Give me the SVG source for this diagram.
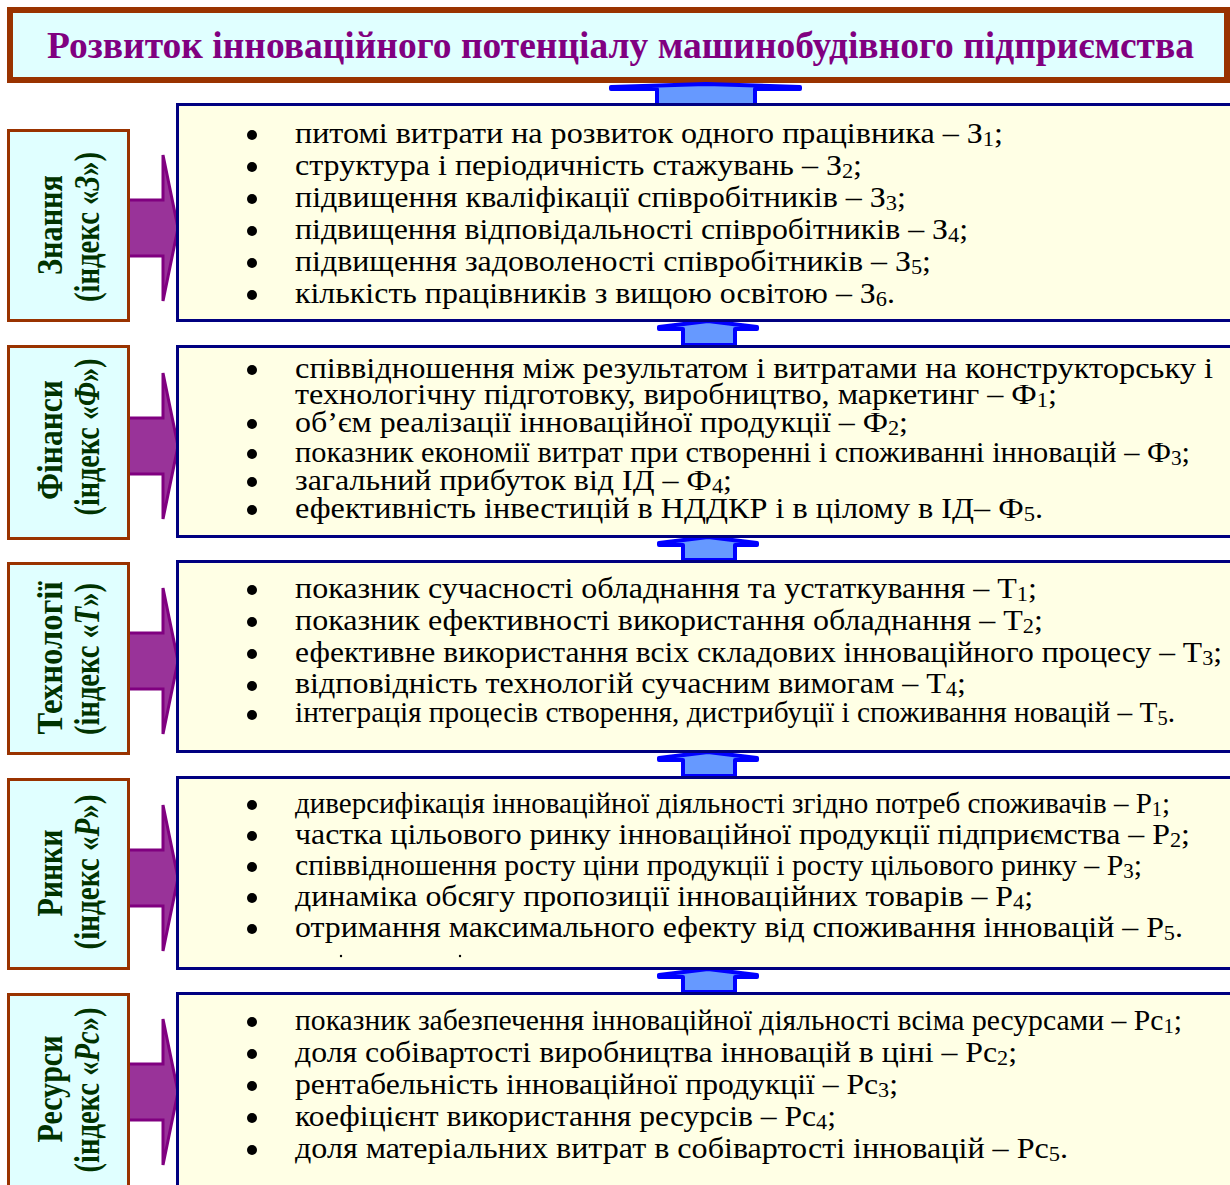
<svg xmlns="http://www.w3.org/2000/svg" width="1230" height="1185" viewBox="0 0 1230 1185">
<style>
.title{font-family:"Liberation Serif",serif;font-weight:bold;font-size:38px;fill:#800080}
.lbox{fill:#E0FFFF;stroke:#993300;stroke-width:3}
.cbox{fill:#FFFFE5;stroke:#000080;stroke-width:3}
.lab{font-family:"Liberation Serif",serif;font-weight:bold;font-size:36px;fill:#003300}
.t{font-family:"Liberation Serif",serif;font-size:30px;fill:#000}
.s{font-size:21px}
.pa{fill:#993399;stroke:#800080;stroke-width:3;stroke-linejoin:miter}
.ba{fill:#6699FF;stroke:#0000FF;stroke-width:4;stroke-linejoin:round}
.b{fill:#000}
</style>
<rect width="1230" height="1185" fill="#fff"/>

<g id="title">
<rect x="10" y="10" width="1217" height="70" fill="#E0FFFF" stroke="#993300" stroke-width="6"/>
<text class="title" x="47" y="58" textLength="1147" lengthAdjust="spacingAndGlyphs">Розвиток інноваційного потенціалу машинобудівного підприємства</text>
</g>

<g id="connectors">
<path class="ba" d="M657,105 V89 H611 V87 L706,84 L800,87 V89 H755 V105 Z"/>
<path class="ba" d="M683,345 V329 H659 V327 L708,321 L757,327 V329 H735 V345 Z"/>
<path class="ba" d="M683,560 V545 H659 V543 L708,537 L757,543 V545 H735 V560 Z"/>
<path class="ba" d="M683,776 V760 H659 V758 L708,752 L757,758 V760 H735 V776 Z"/>
<path class="ba" d="M683,992 V977 H659 V975 L708,969 L757,975 V977 H735 V992 Z"/>
<path class="pa" d="M128,200 H163 V155 L178,228 L163,301 V256 H128 Z"/>
<path class="pa" d="M128,418 H163 V373 L178,446 L163,519 V474 H128 Z"/>
<path class="pa" d="M128,633 H163 V588 L178,661 L163,734 V689 H128 Z"/>
<path class="pa" d="M128,850 H163 V805 L178,878 L163,951 V906 H128 Z"/>
<path class="pa" d="M128,1064 H163 V1019 L178,1092 L163,1165 V1120 H128 Z"/>
</g>

<g id="knowledge-label">
<rect class="lbox" x="8.5" y="130.5" width="120" height="190"/>
<text class="lab" transform="translate(62,225) rotate(-90)" text-anchor="middle" textLength="100" lengthAdjust="spacingAndGlyphs">Знання</text>
<text class="lab" transform="translate(99,227) rotate(-90)" text-anchor="middle" textLength="150" lengthAdjust="spacingAndGlyphs">(індекс «<tspan font-style="italic">З</tspan>»)</text>
</g>
<g id="knowledge">
<rect class="cbox" x="177.5" y="104.5" width="1100" height="216"/>
<circle class="b" cx="252" cy="135" r="5"/>
<circle class="b" cx="252" cy="167" r="5"/>
<circle class="b" cx="252" cy="199" r="5"/>
<circle class="b" cx="252" cy="231" r="5"/>
<circle class="b" cx="252" cy="263" r="5"/>
<circle class="b" cx="252" cy="295" r="5"/>
<text class="t" x="295" y="143" textLength="708" lengthAdjust="spacingAndGlyphs">питомі витрати на розвиток одного працівника – З<tspan class="s" dy="3">1</tspan><tspan dy="-3">;</tspan></text>
<text class="t" x="295" y="175" textLength="567" lengthAdjust="spacingAndGlyphs">структура і періодичність стажувань – З<tspan class="s" dy="3">2</tspan><tspan dy="-3">;</tspan></text>
<text class="t" x="295" y="207" textLength="611" lengthAdjust="spacingAndGlyphs">підвищення кваліфікації співробітників – З<tspan class="s" dy="3">3</tspan><tspan dy="-3">;</tspan></text>
<text class="t" x="295" y="239" textLength="673" lengthAdjust="spacingAndGlyphs">підвищення відповідальності співробітників – З<tspan class="s" dy="3">4</tspan><tspan dy="-3">;</tspan></text>
<text class="t" x="295" y="271" textLength="636" lengthAdjust="spacingAndGlyphs">підвищення задоволеності співробітників – З<tspan class="s" dy="3">5</tspan><tspan dy="-3">;</tspan></text>
<text class="t" x="295" y="303" textLength="600" lengthAdjust="spacingAndGlyphs">кількість працівників з вищою освітою – З<tspan class="s" dy="3">6</tspan><tspan dy="-3">.</tspan></text>
</g>

<g id="finance-label">
<rect class="lbox" x="8.5" y="346.5" width="120" height="192"/>
<text class="lab" transform="translate(62,440) rotate(-90)" text-anchor="middle" textLength="120" lengthAdjust="spacingAndGlyphs">Фінанси</text>
<text class="lab" transform="translate(99,437) rotate(-90)" text-anchor="middle" textLength="157" lengthAdjust="spacingAndGlyphs">(індекс «<tspan font-style="italic">Ф</tspan>»)</text>
</g>
<g id="finance">
<rect class="cbox" x="177.5" y="346.5" width="1100" height="190"/>
<circle class="b" cx="252" cy="370" r="5"/>
<circle class="b" cx="252" cy="424" r="5"/>
<circle class="b" cx="252" cy="454" r="5"/>
<circle class="b" cx="252" cy="482" r="5"/>
<circle class="b" cx="252" cy="510" r="5"/>
<text class="t" x="295" y="378" textLength="918" lengthAdjust="spacingAndGlyphs">співвідношення між результатом і витратами на конструкторську і</text>
<text class="t" x="295" y="404" textLength="762" lengthAdjust="spacingAndGlyphs">технологічну підготовку, виробництво, маркетинг – Ф<tspan class="s" dy="3">1</tspan><tspan dy="-3">;</tspan></text>
<text class="t" x="295" y="432" textLength="613" lengthAdjust="spacingAndGlyphs">об’єм реалізації інноваційної продукції – Ф<tspan class="s" dy="3">2</tspan><tspan dy="-3">;</tspan></text>
<text class="t" x="295" y="462" textLength="895" lengthAdjust="spacingAndGlyphs">показник економії витрат при створенні і споживанні інновацій – Ф<tspan class="s" dy="3">3</tspan><tspan dy="-3">;</tspan></text>
<text class="t" x="295" y="490" textLength="437" lengthAdjust="spacingAndGlyphs">загальний прибуток від ІД – Ф<tspan class="s" dy="3">4</tspan><tspan dy="-3">;</tspan></text>
<text class="t" x="295" y="518" textLength="748" lengthAdjust="spacingAndGlyphs">ефективність інвестицій в  НДДКР і в цілому в ІД– Ф<tspan class="s" dy="3">5</tspan><tspan dy="-3">.</tspan></text>
</g>

<g id="technology-label">
<rect class="lbox" x="8.5" y="563.5" width="120" height="190"/>
<text class="lab" transform="translate(62,658) rotate(-90)" text-anchor="middle" textLength="153" lengthAdjust="spacingAndGlyphs">Технології</text>
<text class="lab" transform="translate(99,659) rotate(-90)" text-anchor="middle" textLength="152" lengthAdjust="spacingAndGlyphs">(індекс «<tspan font-style="italic">Т</tspan>»)</text>
</g>
<g id="technology">
<rect class="cbox" x="177.5" y="561.5" width="1100" height="190"/>
<circle class="b" cx="252" cy="590" r="5"/>
<circle class="b" cx="252" cy="622" r="5"/>
<circle class="b" cx="252" cy="654" r="5"/>
<circle class="b" cx="252" cy="686" r="5"/>
<circle class="b" cx="252" cy="715" r="5"/>
<text class="t" x="295" y="598" textLength="742" lengthAdjust="spacingAndGlyphs">показник сучасності обладнання та устаткування – Т<tspan class="s" dy="3">1</tspan><tspan dy="-3">;</tspan></text>
<text class="t" x="295" y="630" textLength="748" lengthAdjust="spacingAndGlyphs">показник ефективності використання обладнання – Т<tspan class="s" dy="3">2</tspan><tspan dy="-3">;</tspan></text>
<text class="t" x="295" y="662" textLength="927" lengthAdjust="spacingAndGlyphs">ефективне використання всіх складових інноваційного процесу – Т<tspan class="s" dy="3">3</tspan><tspan dy="-3">;</tspan></text>
<text class="t" x="295" y="693" textLength="671" lengthAdjust="spacingAndGlyphs">відповідність технологій сучасним вимогам – Т<tspan class="s" dy="3">4</tspan><tspan dy="-3">;</tspan></text>
<text class="t" x="295" y="722" textLength="880" lengthAdjust="spacingAndGlyphs">інтеграція процесів створення, дистрибуції і споживання новацій – Т<tspan class="s" dy="3">5</tspan><tspan dy="-3">.</tspan></text>
</g>

<g id="markets-label">
<rect class="lbox" x="8.5" y="779.5" width="120" height="189"/>
<text class="lab" transform="translate(62,873) rotate(-90)" text-anchor="middle" textLength="87" lengthAdjust="spacingAndGlyphs">Ринки</text>
<text class="lab" transform="translate(99,872) rotate(-90)" text-anchor="middle" textLength="155" lengthAdjust="spacingAndGlyphs">(індекс «<tspan font-style="italic">Р</tspan>»)</text>
</g>
<g id="markets">
<rect class="cbox" x="177.5" y="777.5" width="1100" height="191"/>
<circle class="b" cx="252" cy="805" r="5"/>
<circle class="b" cx="252" cy="836" r="5"/>
<circle class="b" cx="252" cy="867" r="5"/>
<circle class="b" cx="252" cy="898" r="5"/>
<circle class="b" cx="252" cy="929" r="5"/>
<text class="t" x="295" y="813" textLength="875" lengthAdjust="spacingAndGlyphs">диверсифікація інноваційної діяльності згідно потреб споживачів – Р<tspan class="s" dy="3">1</tspan><tspan dy="-3">;</tspan></text>
<text class="t" x="295" y="844" textLength="895" lengthAdjust="spacingAndGlyphs">частка цільового ринку інноваційної продукції підприємства – Р<tspan class="s" dy="3">2</tspan><tspan dy="-3">;</tspan></text>
<text class="t" x="295" y="875" textLength="847" lengthAdjust="spacingAndGlyphs">співвідношення росту ціни продукції і росту цільового ринку – Р<tspan class="s" dy="3">3</tspan><tspan dy="-3">;</tspan></text>
<text class="t" x="295" y="906" textLength="738" lengthAdjust="spacingAndGlyphs">динаміка обсягу пропозиції інноваційних товарів – Р<tspan class="s" dy="3">4</tspan><tspan dy="-3">;</tspan></text>
<text class="t" x="295" y="937" textLength="888" lengthAdjust="spacingAndGlyphs">отримання максимального ефекту від споживання інновацій – Р<tspan class="s" dy="3">5</tspan><tspan dy="-3">.</tspan></text>
<circle class="b" cx="341" cy="956" r="1.2"/>
<circle class="b" cx="460" cy="956" r="1.2"/>
</g>

<g id="resources-label">
<rect class="lbox" x="8.5" y="994.5" width="120" height="200"/>
<text class="lab" transform="translate(62,1089) rotate(-90)" text-anchor="middle" textLength="107" lengthAdjust="spacingAndGlyphs">Ресурси</text>
<text class="lab" transform="translate(99,1090) rotate(-90)" text-anchor="middle" textLength="165" lengthAdjust="spacingAndGlyphs">(індекс «<tspan font-style="italic">Рс</tspan>»)</text>
</g>
<g id="resources">
<rect class="cbox" x="177.5" y="993.5" width="1100" height="200"/>
<circle class="b" cx="252" cy="1022" r="5"/>
<circle class="b" cx="252" cy="1054" r="5"/>
<circle class="b" cx="252" cy="1086" r="5"/>
<circle class="b" cx="252" cy="1118" r="5"/>
<circle class="b" cx="252" cy="1150" r="5"/>
<text class="t" x="295" y="1030" textLength="887" lengthAdjust="spacingAndGlyphs">показник забезпечення інноваційної діяльності всіма ресурсами – Рс<tspan class="s" dy="3">1</tspan><tspan dy="-3">;</tspan></text>
<text class="t" x="295" y="1062" textLength="722" lengthAdjust="spacingAndGlyphs">доля собівартості виробництва інновацій в ціні – Рс<tspan class="s" dy="3">2</tspan><tspan dy="-3">;</tspan></text>
<text class="t" x="295" y="1094" textLength="603" lengthAdjust="spacingAndGlyphs">рентабельність інноваційної продукції – Рс<tspan class="s" dy="3">3</tspan><tspan dy="-3">;</tspan></text>
<text class="t" x="295" y="1126" textLength="541" lengthAdjust="spacingAndGlyphs">коефіцієнт використання ресурсів – Рс<tspan class="s" dy="3">4</tspan><tspan dy="-3">;</tspan></text>
<text class="t" x="295" y="1158" textLength="773" lengthAdjust="spacingAndGlyphs">доля матеріальних витрат в собівартості інновацій  – Рс<tspan class="s" dy="3">5</tspan><tspan dy="-3">.</tspan></text>
</g>
</svg>
